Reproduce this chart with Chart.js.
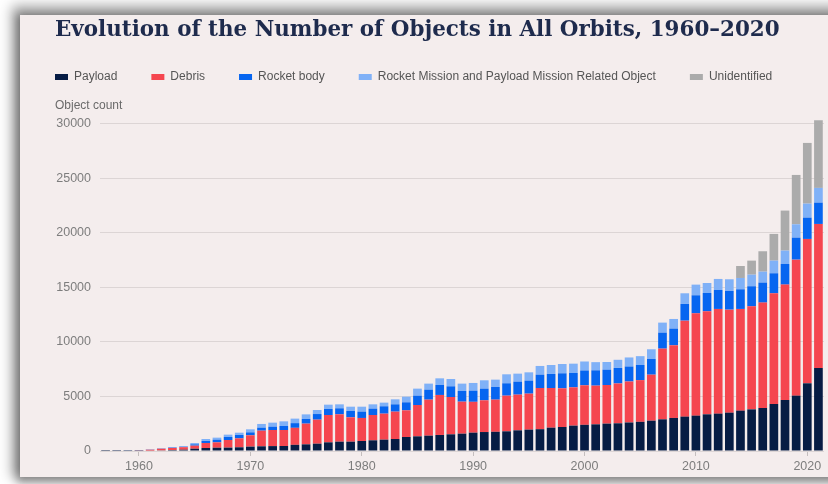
<!DOCTYPE html>
<html>
<head>
<meta charset="utf-8">
<script src="https://cdn.jsdelivr.net/npm/chart.js@4.4.1/dist/chart.umd.min.js"></script>
<style>
  html, body { margin: 0; padding: 0; background: #ffffff; width: 828px; height: 484px; overflow: hidden; }
  #panel {
    position: absolute; left: 20px; top: 15px; width: 830px; height: 462px;
    background: #f4eded;
    box-shadow: -3px -4px 12px 5px rgba(0,0,0,0.38), 0 3px 8px 3px rgba(0,0,0,0.3);
  }
  #wrap { position: absolute; left: 20px; top: 15px; width: 808px; height: 462px; }
</style>
</head>
<body>
<div id="panel"></div>
<div id="wrap"><canvas id="c" width="808" height="462"></canvas></div>
<script>
const HEADING = 'Evolution of the Number of Objects in All Orbits, 1960\u20132020';
const AXIS_LABEL = 'Object count';

const years = [
  1957, 1958, 1959,
  1960, 1961, 1962, 1963, 1964, 1965, 1966, 1967, 1968, 1969,
  1970, 1971, 1972, 1973, 1974, 1975, 1976, 1977, 1978, 1979,
  1980, 1981, 1982, 1983, 1984, 1985, 1986, 1987, 1988, 1989,
  1990, 1991, 1992, 1993, 1994, 1995, 1996, 1997, 1998, 1999,
  2000, 2001, 2002, 2003, 2004, 2005, 2006, 2007, 2008, 2009,
  2010, 2011, 2012, 2013, 2014, 2015, 2016, 2017, 2018, 2019,
  2020, 2021
];

const payload = [
  2, 5, 10,
  20, 40, 60, 90, 120, 210, 275, 300, 310, 340,
  400, 430, 450, 460, 565, 610, 670, 795, 855, 855,
  917, 980, 1040, 1100, 1285, 1345, 1405, 1470, 1530, 1590,
  1680, 1740, 1760, 1805, 1895, 1960, 2000, 2140, 2200, 2325,
  2400, 2445, 2510, 2540, 2615, 2675, 2780, 2905, 3030, 3150,
  3240, 3365, 3425, 3515, 3700, 3820, 3945, 4310, 4680, 5075,
  6210, 7615
];

const debris = [
  0, 0, 2,
  20, 80, 150, 190, 230, 280, 460, 495, 700, 820,
  1040, 1435, 1475, 1465, 1560, 1900, 2205, 2505, 2510, 2235,
  2113, 2320, 2385, 2510, 2445, 2875, 3305, 3670, 3425, 2935,
  2830, 2910, 2950, 3270, 3275, 3300, 3780, 3640, 3550, 3515,
  3625, 3550, 3545, 3655, 3760, 3825, 4220, 6485, 6665, 8805,
  9390, 9450, 9605, 9450, 9330, 9450, 9665, 10155, 10580, 12475,
  13240, 13210
];

const rocketBody = [
  1, 3, 4,
  10, 20, 25, 40, 50, 120, 185, 245, 275, 310,
  270, 275, 305, 370, 430, 425, 515, 550, 550, 580,
  580, 585, 675, 670, 735, 855, 915, 915, 975, 980,
  1025, 1070, 1160, 1135, 1190, 1195, 1220, 1285, 1375, 1315,
  1360, 1405, 1405, 1420, 1375, 1390, 1440, 1465, 1530, 1530,
  1650, 1680, 1740, 1715, 1800, 1840, 1835, 1835, 1895, 2020,
  1955, 1955
];

const missionRelated = [
  0, 2, 3,
  10, 10, 10, 20, 30, 125, 180, 185, 215, 210,
  280, 340, 370, 425, 415, 425, 370, 400, 365, 395,
  455, 395, 335, 460, 520, 645, 555, 610, 675, 675,
  705, 765, 675, 825, 735, 760, 800, 825, 855, 855,
  825, 750, 705, 750, 830, 810, 890, 920, 885, 980,
  980, 915, 1010, 1070, 1040, 1065, 1005, 1160, 1225, 1225,
  1285, 1350
];

const unidentified = [
  0, 0, 0,
  0, 0, 0, 0, 0, 0, 0, 0, 0, 0,
  0, 0, 0, 0, 0, 0, 0, 0, 0, 0,
  0, 0, 0, 0, 0, 0, 0, 0, 0, 0,
  0, 0, 0, 0, 0, 0, 0, 0, 0, 0,
  0, 0, 0, 0, 0, 0, 0, 0, 0, 0,
  0, 0, 0, 0, 1100, 1285, 1870, 2450, 3670, 4525,
  5565, 6205
];

const seriesNames = ['Payload', 'Debris', 'Rocket body', 'Rocket Mission and Payload Mission Related Object', 'Unidentified'];
const seriesColors = ['#061c44', '#f5464f', '#0665f0', '#80b1f7', '#ababab'];
const xTickLabels = ['1960', '1970', '1980', '1990', '2000', '2010', '2020'];
const yTickValues = [0, 5000, 10000, 15000, 20000, 25000, 30000];

const SANS = '"Liberation Sans", Arial, Helvetica, sans-serif';
const LEGEND_PAD = 34;
const LEGEND_GAP = 20;

// heading font size fitted to the reference width
const mctx = document.createElement('canvas').getContext('2d');
mctx.font = 'bold 100px "DejaVu Serif"';
const headingSize = 100 * 725 / mctx.measureText(HEADING).width;

const legendGap = {
  id: 'legendGap',
  beforeInit(chart) {
    const lg = chart.legend;
    const orig = lg.fit;
    lg.fit = function () { orig.bind(lg)(); this.height += LEGEND_GAP; };
  }
};

const textPlugin = {
  id: 'textPlugin',
  afterDraw(chart) {
    const ctx = chart.ctx;
    const lx = chart.legend.left + chart.legend.options.labels.padding;
    ctx.save();
    ctx.textAlign = 'left';
    ctx.textBaseline = 'alphabetic';
    ctx.font = 'bold ' + headingSize.toFixed(2) + 'px "DejaVu Serif"';
    ctx.fillStyle = '#1e2b4d';
    ctx.fillText(HEADING, lx, 21);
    ctx.font = '12px ' + SANS;
    ctx.fillStyle = '#6a6a6a';
    ctx.textBaseline = 'middle';
    ctx.fillText(AXIS_LABEL, lx, chart.chartArea.top - 7);
    ctx.restore();
  }
};

const allSeries = [payload, debris, rocketBody, missionRelated, unidentified];

new Chart(document.getElementById('c'), {
  type: 'bar',
  data: {
    labels: years.map(String),
    datasets: allSeries.map((d, i) => ({
      label: seriesNames[i],
      data: d,
      backgroundColor: seriesColors[i],
      borderWidth: 0,
      barPercentage: 0.78,
      categoryPercentage: 1.0
    }))
  },
  options: {
    responsive: false,
    animation: false,
    layout: { padding: { left: 1, top: 22, right: 4, bottom: 0 } },
    plugins: {
      legend: {
        position: 'top',
        align: 'start',
        labels: {
          boxWidth: 13,
          boxHeight: 6,
          padding: LEGEND_PAD,
          color: '#555555',
          font: { size: 12, family: SANS }
        }
      },
      title: { display: false },
      tooltip: { enabled: false }
    },
    scales: {
      x: {
        stacked: true,
        grid: {
          display: true,
          offset: false,
          drawOnChartArea: false,
          drawTicks: true,
          tickLength: 5,
          color: (ctx) => (ctx.tick && xTickLabels.includes(String(years[ctx.index]))) ? '#c4bebe' : 'rgba(0,0,0,0)'
        },
        border: { display: false },
        ticks: {
          autoSkip: false,
          maxRotation: 0,
          minRotation: 0,
          padding: 3,
          color: '#7d7d7d',
          font: { size: 12.5, family: SANS },
          callback: function (val, i) {
            const s = String(years[i]);
            return xTickLabels.includes(s) ? s : '';
          }
        }
      },
      y: {
        stacked: true,
        min: 0,
        max: 31000,
        afterFit: (s) => { s.width = 79; },
        afterBuildTicks: (s) => { s.ticks = yTickValues.map(v => ({ value: v })); },
        grid: { color: '#dcd5d5', drawTicks: false, lineWidth: 1 },
        border: { display: false },
        ticks: {
          padding: 9,
          color: '#7d7d7d',
          font: { size: 12.5, family: SANS },
          callback: (v) => String(v)
        }
      }
    }
  },
  plugins: [legendGap, textPlugin]
});
</script>
</body>
</html>
